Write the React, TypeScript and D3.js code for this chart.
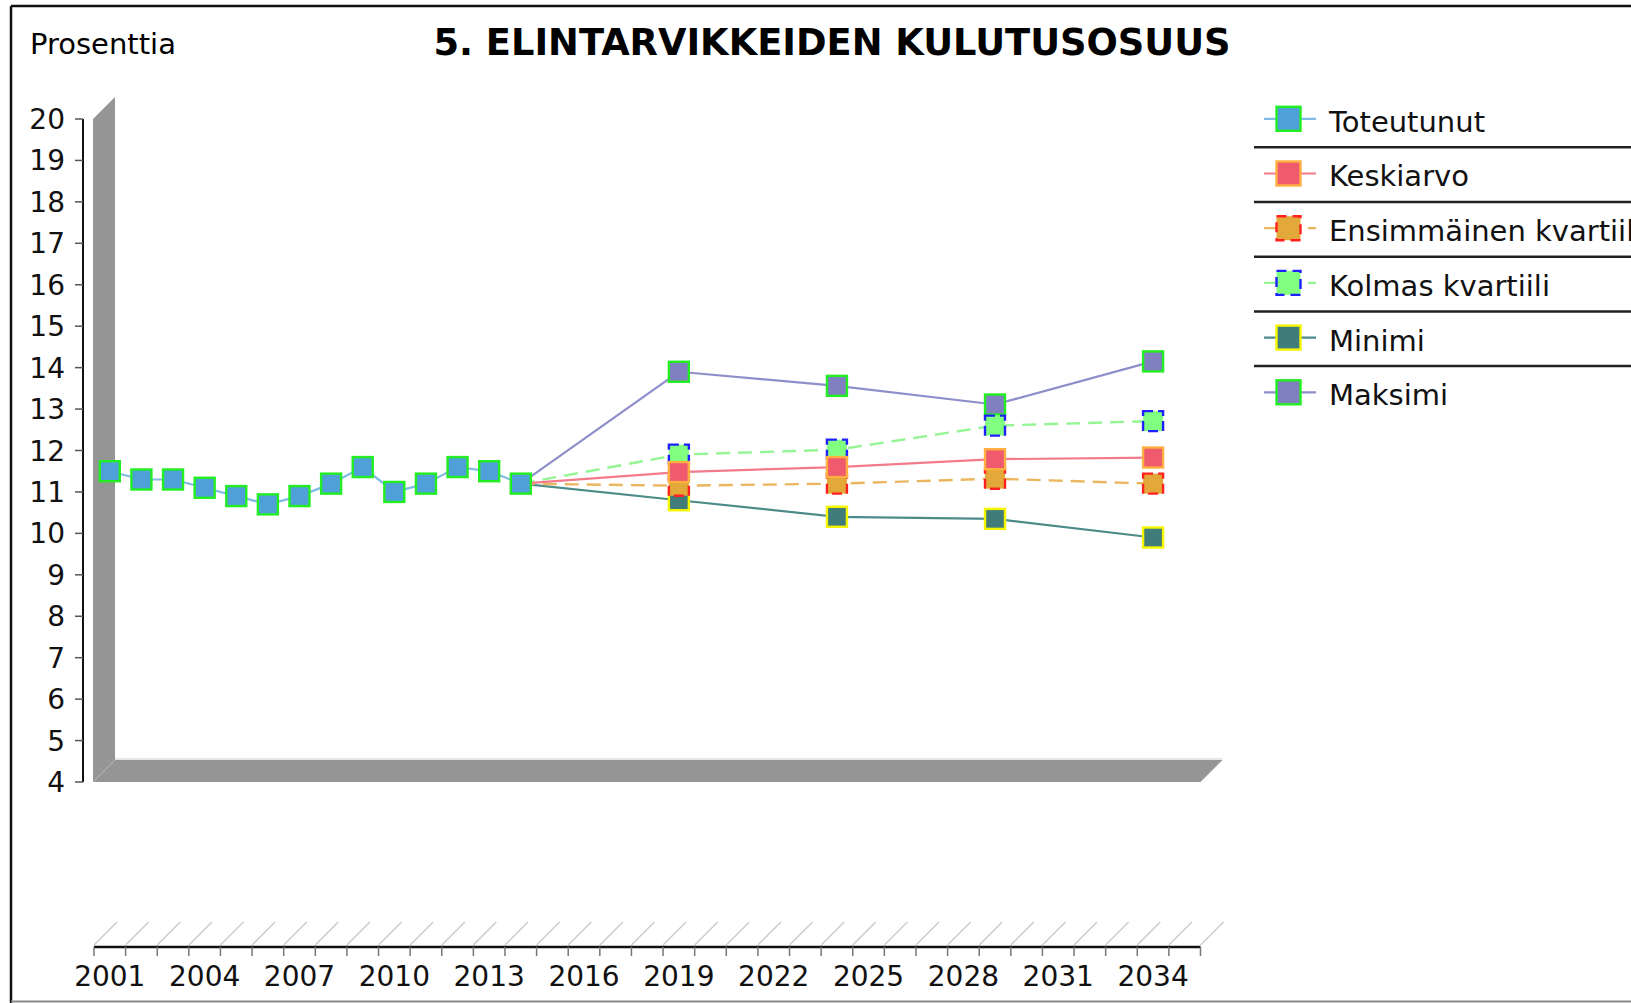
import React from 'react';
import * as d3 from 'd3';

// ---------- data ----------
const categories = [
  '2001','2002','2003','2004','2005','2006','2007','2008','2009','2010',
  '2011','2012','2013','2014','2015','2016','2017','2018','2019','2020',
  '2021','2022','2023','2024','2025','2026','2027','2028','2029','2030',
  '2031','2032','2033','2034','2035',
];
const xTickLabels = ['2001','2004','2007','2010','2013','2016','2019','2022','2025','2028','2031','2034'];
const yTicks = [4,5,6,7,8,9,10,11,12,13,14,15,16,17,18,19,20];

const actualYears = ['2001','2002','2003','2004','2005','2006','2007','2008','2009','2010','2011','2012','2013','2014'];
const actualValues = [11.5, 11.3, 11.3, 11.1, 10.9, 10.7, 10.9, 11.2, 11.6, 11.0, 11.2, 11.6, 11.5, 11.2];

const forecastYears = ['2014','2019','2024','2029','2034'];
const meanValues = [11.2, 11.48, 11.6, 11.79, 11.83];
const q1Values = [11.2, 11.15, 11.2, 11.32, 11.2];
const q3Values = [11.2, 11.9, 12.02, 12.6, 12.71];
const minValues = [11.2, 10.8, 10.4, 10.35, 9.9];
const maxValues = [11.2, 13.9, 13.56, 13.11, 14.15];

const seriesNames = ['Toteutunut','Keskiarvo','Ensimmäinen kvartiili','Kolmas kvartiili','Minimi','Maksimi'];

const titleText = '5. ELINTARVIKKEIDEN KULUTUSOSUUS';
const yAxisLabel = 'Prosenttia';

// ---------- styles ----------
type Style = { line: string; fill: string; stroke: string; dashed: boolean };
const styles: Style[] = [
  { line: '#7fbbe6', fill: '#4fa0d8', stroke: '#22ee22', dashed: false },
  { line: '#f27a8a', fill: '#f05a6e', stroke: '#ffb040', dashed: false },
  { line: '#ebb660', fill: '#e2a83a', stroke: '#ff2020', dashed: true },
  { line: '#95f595', fill: '#80ff80', stroke: '#2020ff', dashed: true },
  { line: '#4d8b89', fill: '#3f7c7a', stroke: '#f5f500', dashed: false },
  { line: '#8e8ecb', fill: '#8080c0', stroke: '#22ee22', dashed: false },
];

const FONT = 'DejaVu Sans, Verdana, sans-serif';

export default function App() {
  const W = 1631, H = 1003;
  const plotLeft = 94, plotRight = 1200.5;
  const yTop = 119, yBottom = 782;
  const depth = 22;
  const axisY = 947;

  const x = d3.scaleBand<string>().domain(categories).range([plotLeft, plotRight]).padding(0);
  const bw = x.bandwidth();
  const cx = (c: string) => (x(c) as number) + bw / 2;
  const y = d3.scaleLinear().domain([4, 20]).range([yBottom, yTop]);

  const seriesData: { years: string[]; values: number[]; markerFrom: number }[] = [
    { years: actualYears, values: actualValues, markerFrom: 0 },
    { years: forecastYears, values: meanValues, markerFrom: 1 },
    { years: forecastYears, values: q1Values, markerFrom: 1 },
    { years: forecastYears, values: q3Values, markerFrom: 1 },
    { years: forecastYears, values: minValues, markerFrom: 1 },
    { years: forecastYears, values: maxValues, markerFrom: 1 },
  ];

  const lineGen = d3.line<[string, number]>().x(d => cx(d[0])).y(d => y(d[1]));

  const boundaries = categories.map(c => x(c) as number).concat([plotRight]);

  const wallPts = [
    [plotLeft - 1, yTop], [plotLeft - 1 + depth, yTop - depth],
    [plotLeft - 1 + depth, yBottom - depth], [plotLeft - 1, yBottom],
  ];
  const floorPts = [
    [plotLeft - 1, yBottom], [plotLeft - 1 + depth, yBottom - depth],
    [plotRight + depth, yBottom - depth], [plotRight, yBottom],
  ];
  const pts = (p: number[][]) => p.map(q => q.join(',')).join(' ');

  const order = [5, 4, 3, 2, 1, 0];
  const M = 20;
  const legendBase = 131.7;
  const legendStep = 54.7;

  return (
    <svg width={W} height={H} style={{ position: 'absolute', left: 0, top: 0, background: '#fff' }}
      fontFamily={FONT}>
      <rect x={0} y={0} width={W} height={H} fill="#fff" />
      {/* outer frame */}
      <line x1={11} y1={6} x2={W} y2={6} stroke="#111" strokeWidth={2.5} />
      <line x1={11} y1={6} x2={11} y2={H} stroke="#111" strokeWidth={2.5} />
      <line x1={11} y1={1001.5} x2={W} y2={1001.5} stroke="#8a8a8a" strokeWidth={2} />

      {/* titles */}
      <text x={30} y={54} fontSize={29} fill="#000">{yAxisLabel}</text>
      <text x={832} y={55} fontSize={36.8} fontWeight="bold" textAnchor="middle" fill="#000">{titleText}</text>

      {/* 3D wall and floor */}
      <polygon points={pts(wallPts)} fill="#959595" />
      <polygon points={pts(floorPts)} fill="#959595" />
      <line x1={plotLeft - 1} y1={yBottom} x2={plotLeft - 1 + depth} y2={yBottom - depth} stroke="#b8b8b8" strokeWidth={1} />
      <line x1={plotLeft - 1 + depth} y1={yBottom - depth - 1} x2={plotRight + depth} y2={yBottom - depth - 1} stroke="#cfcfcf" strokeWidth={1} />

      {/* y axis */}
      <line x1={83} y1={y(20)} x2={83} y2={y(4)} stroke="#111" strokeWidth={2} />
      {yTicks.map(t => (
        <g key={t}>
          <line x1={75} x2={83} y1={y(t)} y2={y(t)} stroke="#555" strokeWidth={1.5} />
          <text x={65} y={y(t) + 10} fontSize={28} textAnchor="end" fill="#111">{t}</text>
        </g>
      ))}

      {/* x axis */}
      {boundaries.map((b, i) => (
        <line key={'d' + i} x1={b} y1={axisY - 2} x2={b + 23} y2={axisY - 25} stroke="#cccccc" strokeWidth={1.5} />
      ))}
      <line x1={plotLeft} y1={axisY} x2={plotRight} y2={axisY} stroke="#111" strokeWidth={2.5} />
      {boundaries.map((b, i) => (
        <line key={'t' + i} x1={b} y1={axisY} x2={b} y2={axisY + 9} stroke="#777" strokeWidth={1.5} />
      ))}
      {xTickLabels.map(l => (
        <text key={l} x={cx(l)} y={986} fontSize={28} textAnchor="middle" fill="#111">{l}</text>
      ))}

      {/* lines */}
      {order.map(i => {
        const s = seriesData[i];
        const st = styles[i];
        const pairs = s.years.map((yr, k) => [yr, s.values[k]] as [string, number]);
        return (
          <path key={'l' + i} d={lineGen(pairs) || ''} fill="none" stroke={st.line}
            strokeWidth={st.dashed ? 2.4 : 2.2}
            strokeDasharray={st.dashed ? '14,8' : undefined} />
        );
      })}
      {/* markers */}
      {order.map(i => {
        const s = seriesData[i];
        const st = styles[i];
        return (
          <g key={'m' + i}>
            {s.years.map((yr, k) => k < s.markerFrom ? null : (
              <rect key={yr} x={cx(yr) - M / 2} y={y(s.values[k]) - M / 2} width={M} height={M}
                fill={st.fill} stroke={st.stroke} strokeWidth={2.4}
                strokeDasharray={st.dashed ? '10,5' : undefined} />
            ))}
          </g>
        );
      })}

      {/* legend */}
      {seriesNames.map((name, i) => {
        const st = styles[i];
        const base = legendBase + i * legendStep;
        const cy = base - 12.9;
        return (
          <g key={name}>
            <line x1={1264} x2={1316} y1={cy} y2={cy} stroke={st.line} strokeWidth={2.2}
              strokeDasharray={st.dashed ? '14,8' : undefined} />
            <rect x={1288.5 - 12} y={cy - 12} width={24} height={24} fill={st.fill} stroke={st.stroke}
              strokeWidth={2.4} strokeDasharray={st.dashed ? '10,6' : undefined} />
            <text x={1329} y={base} fontSize={29} fill="#111">{name}</text>
            {i < seriesNames.length - 1 && (
              <line x1={1254} x2={W} y1={base + 15.6} y2={base + 15.6} stroke="#222" strokeWidth={2.5} />
            )}
          </g>
        );
      })}
    </svg>
  );
}
